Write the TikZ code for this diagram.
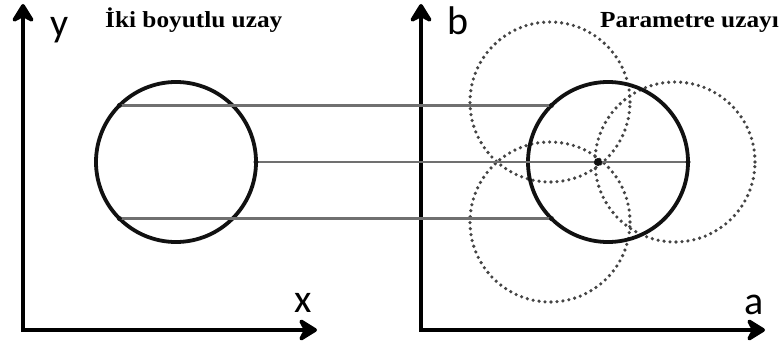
\documentclass[tikz,border=0pt]{standalone}
\usepackage{fontspec}
\usepackage{tikz}
\usetikzlibrary{arrows.meta}
\newfontfamily\axisfont{Carlito}
\newfontfamily\titlefont[FakeStretch=1.1]{Liberation Serif}
\definecolor{htLine}{HTML}{707070}
\definecolor{htVote}{HTML}{444444}
\definecolor{htInk}{HTML}{111111}
\tikzset{
  axtip/.tip={Stealth[length=22pt,width=27pt,inset=7pt,round]},
  axis/.style={line width=4.5pt, line join=miter, draw=black, axtip-axtip},
  shape2d/.style={circle, draw=htInk, line width=3.8pt, minimum size=160pt,
    inner sep=0pt, outer sep=0pt},
  vote/.style={circle, draw=htVote, line width=3.6pt, line cap=round,
    dash pattern=on 0pt off 6pt, minimum size=160pt, inner sep=0pt, outer sep=0pt},
  mapline/.style={line width=2.2pt, htLine},
  pin/.style={fill=htInk},
  axlabel/.style={font=\axisfont\fontsize{40}{44}\selectfont, inner sep=0pt, anchor=base},
  title/.style={font=\titlefont\bfseries\fontsize{23}{26}\selectfont, inner sep=0pt, anchor=base west}
}
\begin{document}
\begin{tikzpicture}[x=1pt, y=-1pt]
  \useasboundingbox (0,0) rectangle (784,345);
  % axes
  \coordinate (o1) at (23,330);
  \coordinate (ytip) at (23,4);
  \coordinate (xtip) at (317,330);
  \coordinate (o2) at (421,330);
  \coordinate (btip) at (421,4);
  \coordinate (atip) at (765,330);
  \draw[axis] (ytip) -- (o1) -- (xtip);
  \draw[axis] (btip) -- (o2) -- (atip);
  \node[axlabel] (ly) at (60,37) {y};
  \node[axlabel] (lx) at (303,312) {x};
  \node[axlabel] (lb) at (458,35) {b};
  \node[axlabel] (la) at (754,314) {a};
  \node[title] (t1) at (105,28) {İki boyutlu uzay};
  \node[title] (t2) at (600,28) {Parametre uzayı};
  % voting circles
  \node[vote] (v1) at (550,102) {};
  \node[vote] (v2) at (550,222) {};
  \node[vote] (v3) at (675,162) {};
  % circles
  \node[shape2d] (img) at (176,162) {};
  \node[shape2d] (par) at (608,162) {};
  \draw[mapline] (img.135) -- (par.135);
  \draw[mapline] (img.east) -- (par.east);
  \draw[mapline] (img.225) -- (par.225);
  \fill[pin] (img.135) circle (2.5pt);
  \fill[pin] (img.east) circle (2.5pt);
  \fill[pin] (img.225) circle (2.5pt);
  \fill[pin] (par.135) circle (2.5pt);
  \fill[pin] (par.east) circle (2.5pt);
  \fill[pin] (par.225) circle (2.5pt);
  \coordinate (hit) at (598,162);
  \fill[pin] (hit) circle (4pt);
\end{tikzpicture}
\end{document}
